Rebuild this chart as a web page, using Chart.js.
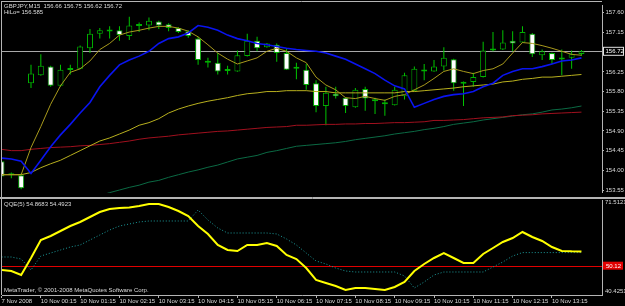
<!DOCTYPE html>
<html><head><meta charset="utf-8">
<script src="https://cdn.jsdelivr.net/npm/chart.js@4/dist/chart.umd.min.js"></script>
<style>
html,body{margin:0;padding:0;background:#000;width:625px;height:306px;overflow:hidden}
#c1{position:absolute;left:0;top:0}
#c2{position:absolute;left:0;top:198px}
</style></head><body>
<canvas id="c1" width="625" height="198"></canvas>
<canvas id="c2" width="625" height="108"></canvas>
<script>
// ---------- data ----------
const symbolTitle = 'GBPJPY,M15  156.66 156.75 156.62 156.72';
const hiloText = 'HiLo= 156.585';
const qqeTitle = 'QQE(5) 54.8683 54.4923';
const copyrightText = 'MetaTrader, \u00A9 2001-2008 MetaQuotes Software Corp.';
const bidPrice = 156.72;
const qqeLevel = 50.12;
const qqeScaleLabels = ['71.5121', '40.4251'];
const priceTicks = [157.60, 157.15, 156.25, 155.80, 155.35, 154.90, 154.45, 154.00, 153.55];
const tickLabels = ['7 Nov 2008','10 Nov 00:15','10 Nov 01:15','10 Nov 02:15','10 Nov 03:15','10 Nov 04:15','10 Nov 05:15','10 Nov 06:15','10 Nov 07:15','10 Nov 08:15','10 Nov 09:15','10 Nov 10:15','10 Nov 11:15','10 Nov 12:15','10 Nov 13:15'];
const barsPerTick = 4;

const opens = [154.21,153.89,153.89,155.99,156.17,156.37,155.93,156.34,156.32,156.79,
157.12,157.18,157.20,157.07,157.30,157.31,157.40,157.34,157.25,157.18,
157.01,156.50,156.46,156.27,156.26,156.61,156.96,156.81,156.87,156.68,
156.32,156.30,155.99,155.47,155.75,155.66,155.44,155.86,155.62,155.55,
155.49,155.69,155.82,156.30,156.26,156.37,156.54,156.02,156.02,156.13,
156.74,156.76,156.96,156.92,157.12,156.63,156.68,156.54,156.57,156.66];
const highs = [154.23,153.95,153.93,156.41,156.65,156.39,156.41,156.41,156.85,157.23,
157.25,157.29,157.29,157.51,157.38,157.49,157.42,157.36,157.27,157.20,
157.05,156.57,156.68,156.39,156.74,157.12,157.05,156.91,156.90,156.79,
156.46,156.43,156.06,155.91,155.91,155.67,155.88,155.91,155.66,155.62,
155.91,156.23,156.37,156.43,156.52,156.81,156.55,156.03,156.23,156.94,
157.16,157.20,157.18,157.29,157.14,156.76,156.69,156.76,156.74,156.75];
const lows = [153.84,153.82,153.57,155.88,156.16,155.91,155.91,156.19,156.31,156.68,
157.01,157.01,156.96,156.98,157.16,157.20,157.23,157.18,157.14,157.03,
156.41,156.35,156.19,156.19,156.25,156.60,156.72,156.80,156.48,156.29,
156.08,155.84,155.33,155.03,155.64,155.31,155.43,155.36,155.29,155.25,
155.48,155.62,155.81,156.06,156.25,156.28,155.82,155.47,155.91,156.12,
156.72,156.75,156.72,156.91,156.59,156.52,156.43,156.17,156.32,156.62];
const closes = [153.86,153.90,153.59,156.21,156.39,155.93,156.30,156.29,156.83,157.12,
157.20,157.17,157.09,157.31,157.31,157.42,157.31,157.25,157.16,157.07,
156.52,156.46,156.26,156.28,156.63,156.96,156.79,156.90,156.68,156.30,
156.33,155.95,155.47,155.77,155.69,155.47,155.84,155.64,155.58,155.51,
155.84,156.17,156.32,156.26,156.37,156.57,155.99,155.98,156.13,156.74,
156.76,156.92,156.90,157.16,156.65,156.72,156.52,156.53,156.65,156.72];

const fastMA = [153.90,153.90,153.90,154.52,155.00,155.51,155.93,156.24,156.32,156.50,
156.76,156.90,157.09,157.16,157.20,157.25,157.29,157.29,157.25,157.18,
157.05,156.87,156.68,156.54,156.43,156.50,156.57,156.72,156.79,156.72,
156.57,156.46,156.13,155.95,155.84,155.66,155.64,155.69,155.64,155.60,
155.69,155.73,155.84,155.95,156.10,156.26,156.32,156.26,156.21,156.28,
156.32,156.43,156.68,156.92,156.90,156.85,156.79,156.72,156.65,156.63];
const blueMA = [154.28,154.26,154.21,153.93,154.23,154.54,154.81,155.05,155.31,155.55,
155.91,156.17,156.41,156.52,156.61,156.72,156.90,157.01,157.05,157.14,
157.31,157.27,157.20,157.09,157.01,156.96,156.90,156.87,156.83,156.79,
156.76,156.74,156.72,156.68,156.61,156.54,156.43,156.32,156.21,156.06,
155.93,155.86,155.44,155.53,155.62,155.69,155.73,155.75,155.80,155.91,
155.99,156.17,156.26,156.32,156.32,156.37,156.43,156.50,156.52,156.57];
const slowMA = [153.90,153.90,153.90,153.95,154.06,154.15,154.23,154.34,154.45,154.56,
154.67,154.74,154.83,154.92,155.03,155.09,155.18,155.31,155.40,155.47,
155.53,155.58,155.62,155.66,155.71,155.75,155.77,155.80,155.80,155.82,
155.82,155.82,155.80,155.80,155.77,155.77,155.77,155.77,155.77,155.77,
155.77,155.80,155.80,155.82,155.84,155.86,155.88,155.91,155.93,155.95,
155.97,156.02,156.04,156.08,156.10,156.13,156.13,156.15,156.17,156.19];
const redMA = [154.48,154.45,154.45,154.48,154.50,154.52,154.53,154.54,154.56,154.57,
154.59,154.61,154.64,154.67,154.71,154.74,154.76,154.78,154.81,154.83,
154.85,154.87,154.89,154.90,154.92,154.94,154.96,154.98,154.99,155.00,
155.03,155.03,155.04,155.05,155.05,155.06,155.06,155.07,155.07,155.08,
155.09,155.09,155.10,155.11,155.14,155.14,155.15,155.16,155.18,155.20,
155.21,155.22,155.25,155.26,155.27,155.29,155.30,155.31,155.32,155.33];
const greenMA = [152.85,152.91,152.96,153.02,153.08,153.13,153.20,153.25,153.31,153.37,
153.42,153.49,153.55,153.61,153.66,153.73,153.77,153.84,153.90,153.96,
154.01,154.07,154.12,154.19,154.26,154.30,154.34,154.41,154.45,154.50,
154.55,154.57,154.59,154.61,154.63,154.66,154.70,154.73,154.76,154.79,
154.83,154.86,154.89,154.93,154.96,155.00,155.05,155.08,155.11,155.15,
155.18,155.21,155.24,155.27,155.29,155.33,155.38,155.40,155.43,155.47];

const qqeMain = [48.69,48.35,47.02,52.69,58.69,60.02,61.69,63.35,64.69,66.35,
68.02,69.02,69.35,69.52,70.02,70.69,70.69,69.69,68.35,66.69,
63.35,60.69,57.02,55.35,55.02,57.02,57.02,57.69,56.69,53.69,
52.35,49.35,45.35,44.35,43.35,42.02,42.69,42.69,42.35,42.02,
43.02,44.69,48.35,50.69,52.69,54.35,52.69,51.02,51.02,54.02,
56.02,58.02,59.35,61.35,59.69,58.35,56.35,55.02,54.90,54.87];
const qqeSignal = [53.02,53.02,52.35,48.69,53.35,54.35,55.35,56.35,57.02,58.69,
60.35,62.02,63.35,64.02,64.69,65.02,65.02,65.02,65.02,65.02,
68.69,65.35,62.69,61.02,61.02,61.02,61.02,61.02,60.69,59.02,
57.02,54.35,51.69,50.69,49.35,48.35,48.02,48.02,48.02,48.02,
48.02,46.69,42.69,44.69,47.02,48.02,48.02,48.02,48.02,48.02,
49.69,51.35,53.35,54.49,54.49,54.49,54.49,54.49,54.49,54.49];

// ---------- styling ----------
const FONT = '"Liberation Sans", Arial, sans-serif';
const TEXT = '#dcdcdc';
const FRAME = '#b4b4b4';
const X_MIN = 0.05, X_MAX = 61.09;
const pts = arr => arr.map((v, i) => ({x: i, y: v}));
const lineDs = (label, arr, color, width, order, extra) => Object.assign({
  type: 'line', label, data: pts(arr), borderColor: color, borderWidth: width,
  pointRadius: 0, tension: 0, fill: false, order
}, extra || {});

function text(ctx, str, x, y, color, align) {
  ctx.font = '6px ' + FONT;
  ctx.fillStyle = color || TEXT;
  ctx.textBaseline = 'middle';
  ctx.textAlign = align || 'left';
  ctx.fillText(str, x, y);
}

const mainDecor = {
  id: 'mainDecor',
  beforeDatasetsDraw(chart) {
    const {ctx, chartArea: a, scales: {y}} = chart;
    const py = Math.round(y.getPixelForValue(bidPrice)) + 0.5;
    ctx.save();
    ctx.strokeStyle = '#a8a8a8'; ctx.lineWidth = 1;
    ctx.beginPath(); ctx.moveTo(a.left, py); ctx.lineTo(a.right, py); ctx.stroke();
    ctx.restore();
  },
  afterDraw(chart) {
    const {ctx, chartArea: a, scales: {y}} = chart;
    ctx.save();
    ctx.strokeStyle = FRAME; ctx.lineWidth = 1;
    ctx.beginPath();
    ctx.moveTo(1, 1.5); ctx.lineTo(a.right, 1.5);
    ctx.moveTo(1.5, 1); ctx.lineTo(1.5, 198);
    ctx.moveTo(0, 197.5); ctx.lineTo(625, 197.5);
    ctx.stroke();
    // bid label
    const py = y.getPixelForValue(bidPrice);
    ctx.fillStyle = '#000'; ctx.fillRect(a.right + 1, py - 4.5, 21, 9);
    ctx.strokeStyle = '#e0e0e0'; ctx.strokeRect(a.right + 1.5, py - 4, 20, 8);
    text(ctx, bidPrice.toFixed(2), a.right + 3.5, py + 0.5, '#ffffff');
    text(ctx, symbolTitle, 4, 6);
    text(ctx, hiloText, 4, 12.5);
    ctx.restore();
  }
};

const subDecor = {
  id: 'subDecor',
  beforeDatasetsDraw(chart) {
    const {ctx, chartArea: a, scales: {y}} = chart;
    const py = Math.round(y.getPixelForValue(qqeLevel)) + 0.5;
    ctx.save();
    ctx.strokeStyle = '#e00000'; ctx.lineWidth = 1;
    ctx.beginPath(); ctx.moveTo(a.left, py); ctx.lineTo(a.right, py); ctx.stroke();
    ctx.restore();
  },
  afterDraw(chart) {
    const {ctx, chartArea: a, scales: {y}} = chart;
    ctx.save();
    ctx.strokeStyle = FRAME; ctx.lineWidth = 1;
    ctx.beginPath();
    ctx.moveTo(0, 0.5); ctx.lineTo(625, 0.5);
    ctx.moveTo(1.5, 0); ctx.lineTo(1.5, a.bottom);
    ctx.stroke();
    const top = Math.max(y.getPixelForValue(71.5121), a.top + 2.5);
    const bot = Math.min(y.getPixelForValue(40.4251), a.bottom - 4);
    text(ctx, qqeScaleLabels[0], a.right + 3, top);
    text(ctx, qqeScaleLabels[1], a.right + 3, bot);
    const py = y.getPixelForValue(qqeLevel);
    ctx.fillStyle = '#e00000'; ctx.fillRect(a.right + 1, py - 4, 20, 8);
    text(ctx, qqeLevel.toFixed(2), a.right + 4, py + 0.5, '#ffffff');
    text(ctx, qqeTitle, 4, 6.5);
    text(ctx, copyrightText, 4, 92);
    ctx.restore();
  }
};

const common = {
  responsive: false, animation: false, devicePixelRatio: 1,
  plugins: {legend: {display: false}, tooltip: {enabled: false}}
};

new Chart(document.getElementById('c1'), {
  type: 'bar',
  data: {
    datasets: [
      lineDs('MA fast', fastMA, '#a89a1c', 1, 2),
      lineDs('MA blue', blueMA, '#0a14f0', 1.6, 1),
      lineDs('MA slow', slowMA, '#b8b01e', 1, 3),
      lineDs('MA red', redMA, '#a0101e', 1, 4),
      lineDs('MA green', greenMA, '#0b6a44', 1, 5),
      {
        type: 'bar', label: 'Body', order: 10, grouped: false,
        data: opens.map((o, i) => ({x: i, y: [o, closes[i]]})),
        backgroundColor: opens.map((o, i) => closes[i] < o ? '#ffffff' : '#000000'),
        borderColor: '#00b000', borderWidth: 1, borderSkipped: false,
        barThickness: 6, minBarLength: 2, inflateAmount: 0
      },
      {
        type: 'bar', label: 'Wick', order: 11, grouped: false,
        data: lows.map((l, i) => ({x: i, y: [l, highs[i]]})),
        backgroundColor: '#00c400', borderWidth: 0, barThickness: 1, inflateAmount: 0
      }
    ]
  },
  options: Object.assign({}, common, {
    layout: {padding: {left: 2, top: 2, right: 0, bottom: 1}},
    scales: {
      x: {type: 'linear', min: X_MIN, max: X_MAX, offset: false, display: false},
      y: {
        position: 'right', min: 153.484, max: 157.776, beginAtZero: false,
        afterFit(s) { s.width = 23; },
        afterBuildTicks(s) { s.ticks = priceTicks.map(v => ({value: v})); },
        ticks: {autoSkip: false, color: TEXT, font: {family: FONT, size: 6}, padding: 1.5,
          callback: v => Number(v).toFixed(2)},
        grid: {drawOnChartArea: false, drawTicks: true, tickLength: 2, color: FRAME},
        border: {display: true, color: FRAME}
      }
    }
  }),
  plugins: [mainDecor]
});

new Chart(document.getElementById('c2'), {
  type: 'line',
  data: {
    datasets: [
      lineDs('QQE', qqeMain, '#ffff00', 2, 1),
      lineDs('QQE signal', qqeSignal, '#1c9c9c', 1, 2, {borderDash: [1, 2]})
    ]
  },
  options: Object.assign({}, common, {
    layout: {padding: {left: 2, top: 2, right: 0, bottom: 0}},
    scales: {
      x: {
        type: 'linear', min: X_MIN, max: X_MAX, offset: false,
        afterFit(s) { s.height = 11; },
        afterBuildTicks(s) { s.ticks = tickLabels.map((t, k) => ({value: k * barsPerTick})); },
        ticks: {autoSkip: false, maxRotation: 0, minRotation: 0, align: 'start', padding: 0,
          color: TEXT, font: {family: FONT, size: 6}, callback: (v, idx) => tickLabels[idx]},
        grid: {drawOnChartArea: false, drawTicks: true, tickLength: 3, color: FRAME},
        border: {display: true, color: FRAME}
      },
      y: {
        position: 'right', min: 40.35, max: 72.02, beginAtZero: false,
        afterFit(s) { s.width = 23; },
        ticks: {display: false}, grid: {display: false},
        border: {display: true, color: FRAME}
      }
    }
  }),
  plugins: [subDecor]
});
</script>
</body></html>
